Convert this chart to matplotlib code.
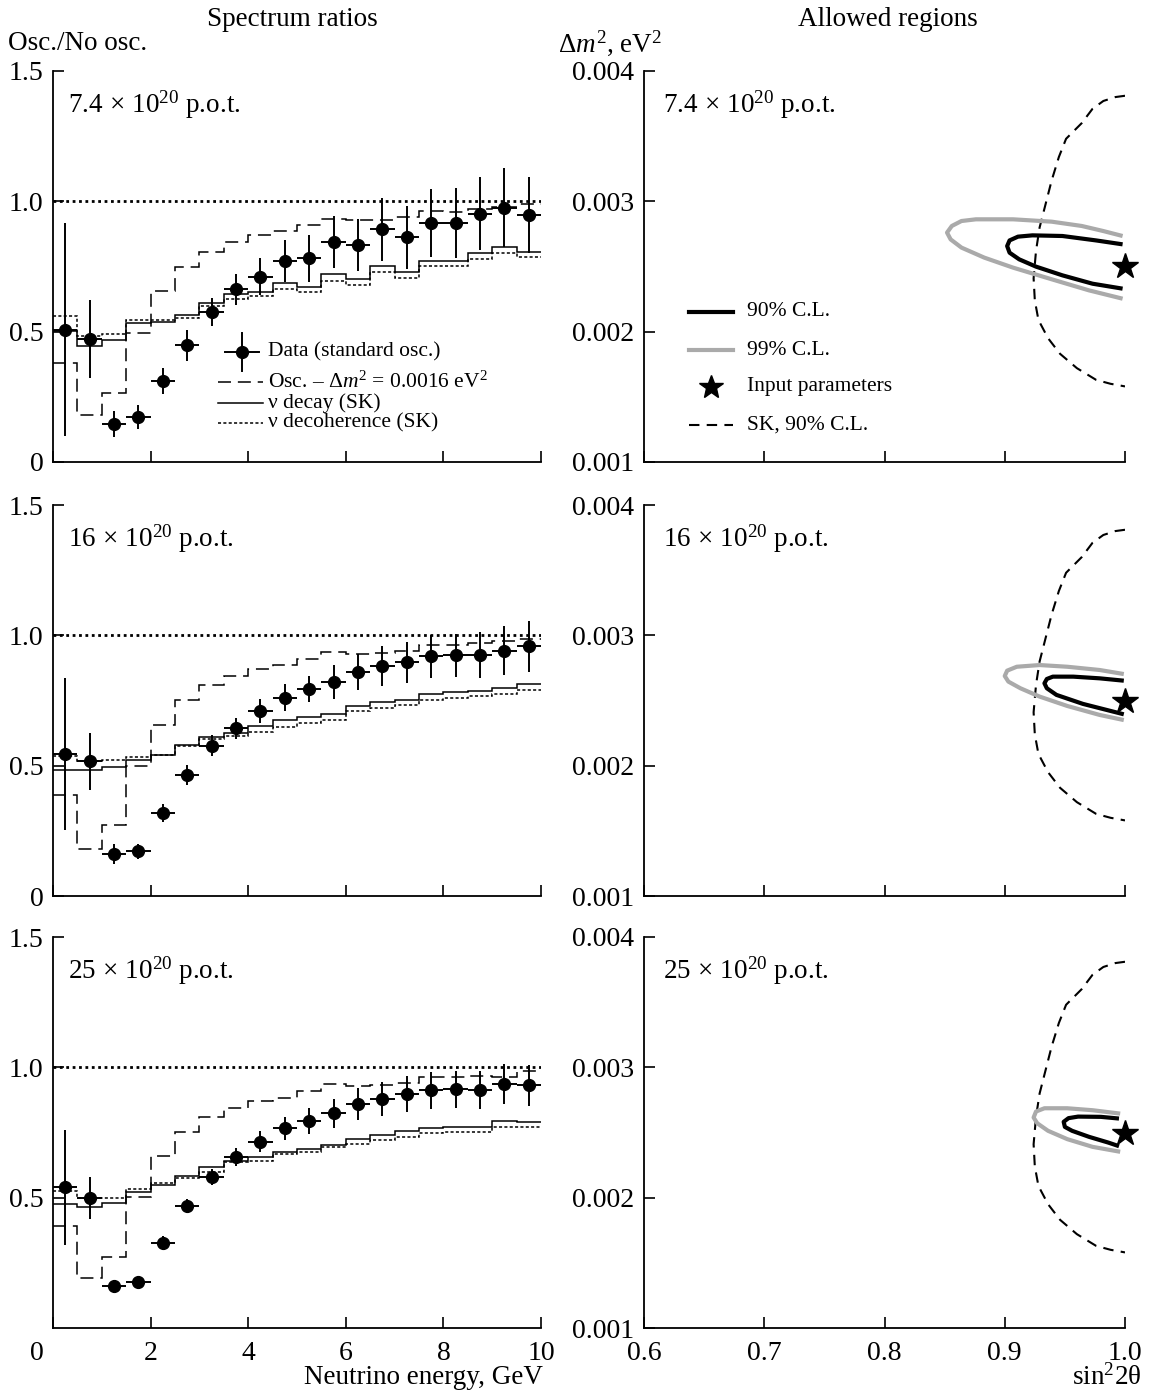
import numpy as np
import matplotlib
matplotlib.use('Agg')
import matplotlib.pyplot as plt
from matplotlib.transforms import ScaledTranslation

plt.rcParams['font.family'] = ['Liberation Serif', 'DejaVu Serif']
plt.rcParams['mathtext.fontset'] = 'custom'
plt.rcParams['mathtext.rm'] = 'Liberation Serif'
plt.rcParams['mathtext.it'] = 'Liberation Serif:italic'

# energy binning: 20 bins of 0.5 GeV
edges = np.arange(0, 10.01, 0.5)
centers = edges[:-1] + 0.25

pot_labels = [r'7.4$\,\times\,$10$^{20}$ p.o.t.',
              r'16$\,\times\,$10$^{20}$ p.o.t.',
              r'25$\,\times\,$10$^{20}$ p.o.t.']

# measured ratio (standard oscillation) and errors
data_74 = [0.508, 0.473, 0.147, 0.173, 0.312, 0.447, 0.576, 0.662, 0.711, 0.772,
           0.781, 0.845, 0.832, 0.892, 0.862, 0.918, 0.918, 0.952, 0.976, 0.948]
err_74 = [0.41, 0.15, 0.05, 0.045, 0.05, 0.06, 0.055, 0.06, 0.07, 0.08,
          0.09, 0.10, 0.10, 0.12, 0.12, 0.13, 0.135, 0.14, 0.15, 0.145]
data_16 = [0.545, 0.517, 0.161, 0.171, 0.318, 0.464, 0.577, 0.644, 0.710, 0.761,
           0.794, 0.821, 0.859, 0.881, 0.896, 0.919, 0.923, 0.926, 0.941, 0.958]
err_16 = [0.29, 0.11, 0.037, 0.03, 0.035, 0.037, 0.04, 0.04, 0.046, 0.052,
          0.05, 0.065, 0.07, 0.077, 0.08, 0.083, 0.082, 0.088, 0.094, 0.097]
data_25 = [0.540, 0.498, 0.160, 0.178, 0.328, 0.468, 0.579, 0.656, 0.715, 0.766,
           0.794, 0.823, 0.859, 0.878, 0.897, 0.912, 0.915, 0.912, 0.935, 0.931]
err_25 = [0.22, 0.08, 0.024, 0.022, 0.024, 0.028, 0.031, 0.033, 0.04, 0.043,
          0.049, 0.054, 0.06, 0.064, 0.068, 0.07, 0.072, 0.073, 0.077, 0.078]

# oscillation with dm2 = 0.0016 eV2
osc_74 = [0.381, 0.179, 0.263, 0.495, 0.656, 0.749, 0.804, 0.845, 0.871, 0.888,
          0.910, 0.933, 0.929, 0.929, 0.939, 0.963, 0.959, 0.972, 0.978, 0.988]
osc_16 = [0.386, 0.182, 0.271, 0.500, 0.657, 0.751, 0.808, 0.845, 0.872, 0.885,
          0.910, 0.936, 0.930, 0.932, 0.941, 0.964, 0.962, 0.971, 0.977, 0.987]
osc_25 = [0.391, 0.191, 0.274, 0.503, 0.661, 0.751, 0.808, 0.845, 0.871, 0.883,
          0.910, 0.935, 0.929, 0.932, 0.940, 0.962, 0.961, 0.966, 0.962, 0.985]

# neutrino decay (SK)
decay_74 = [0.501, 0.446, 0.469, 0.534, 0.537, 0.563, 0.611, 0.643, 0.652, 0.686,
            0.673, 0.720, 0.701, 0.750, 0.727, 0.772, 0.772, 0.802, 0.826, 0.804]
decay_16 = [0.482, 0.482, 0.494, 0.523, 0.542, 0.581, 0.610, 0.625, 0.651, 0.674,
            0.685, 0.699, 0.728, 0.744, 0.753, 0.776, 0.783, 0.785, 0.798, 0.815]
decay_25 = [0.474, 0.465, 0.478, 0.522, 0.550, 0.582, 0.618, 0.639, 0.656, 0.677,
            0.686, 0.703, 0.726, 0.741, 0.756, 0.766, 0.773, 0.773, 0.794, 0.789]

# neutrino decoherence (SK)
decoh_74 = [0.559, 0.485, 0.492, 0.546, 0.544, 0.553, 0.598, 0.626, 0.637, 0.662,
            0.652, 0.695, 0.679, 0.727, 0.705, 0.750, 0.750, 0.778, 0.802, 0.785]
decoh_16 = [0.536, 0.517, 0.520, 0.532, 0.542, 0.577, 0.602, 0.615, 0.629, 0.648,
            0.664, 0.674, 0.708, 0.721, 0.731, 0.753, 0.760, 0.766, 0.776, 0.792]
decoh_25 = [0.525, 0.499, 0.499, 0.533, 0.557, 0.576, 0.598, 0.635, 0.639, 0.667,
            0.677, 0.693, 0.706, 0.722, 0.732, 0.747, 0.753, 0.751, 0.773, 0.771]

# SK 90% C.L. contour (sin^2 2theta, dm2)
sk_x = [1.000, 0.992, 0.982, 0.973, 0.964, 0.951, 0.945, 0.939, 0.934, 0.929,
        0.926, 0.924, 0.925, 0.928, 0.936, 0.946, 0.960, 0.976, 0.988, 1.000]
sk_y = [0.00381, 0.00380, 0.00377, 0.00371, 0.00360, 0.00348, 0.00334, 0.00316,
        0.00298, 0.00280, 0.00262, 0.00241, 0.00224, 0.00209, 0.00195, 0.00183,
        0.00172, 0.00163, 0.00160, 0.00158]

# allowed regions, 90% and 99% C.L.
cl90_74_x = [0.998, 0.976, 0.948, 0.923, 0.911, 0.904, 0.902, 0.904, 0.912, 0.926,
             0.948, 0.973, 0.998]
cl90_74_y = [0.00267, 0.00270, 0.002734, 0.002739, 0.002729, 0.00270, 0.002657,
             0.002606, 0.002555, 0.002499, 0.002432, 0.002368, 0.00233]
cl99_74_x = [0.998, 0.982, 0.964, 0.939, 0.907, 0.876, 0.864, 0.856, 0.852, 0.855,
             0.864, 0.883, 0.907, 0.939, 0.970, 0.998]
cl99_74_y = [0.002734, 0.002772, 0.002811, 0.002844, 0.002862, 0.002862, 0.002849,
             0.002811, 0.00276, 0.002708, 0.002645, 0.002568, 0.002491, 0.002402,
             0.002317, 0.002253]

cl90_16_x = [0.999, 0.979, 0.957, 0.940, 0.935, 0.933, 0.935, 0.943, 0.965, 0.985,
             0.999]
cl90_16_y = [0.002652, 0.002670, 0.002683, 0.002683, 0.002665, 0.002632, 0.002594,
             0.002543, 0.002474, 0.002427, 0.002394]
cl99_16_x = [0.999, 0.979, 0.952, 0.929, 0.910, 0.902, 0.900, 0.903, 0.913, 0.929,
             0.952, 0.979, 0.999]
cl99_16_y = [0.002703, 0.002734, 0.002759, 0.002772, 0.002759, 0.002729, 0.002688,
             0.002645, 0.002594, 0.002530, 0.002458, 0.002389, 0.00235]

cl90_25_x = [0.995, 0.980, 0.961, 0.953, 0.949, 0.950, 0.956, 0.970, 0.986, 0.995]
cl90_25_y = [0.002607, 0.002620, 0.002622, 0.002610, 0.002582, 0.002543, 0.002513,
             0.002467, 0.002423, 0.002395]
cl99_25_x = [0.996, 0.973, 0.952, 0.933, 0.926, 0.924, 0.927, 0.936, 0.952, 0.973,
             0.996]
cl99_25_y = [0.002645, 0.002671, 0.002686, 0.002686, 0.002661, 0.002615, 0.002571,
             0.002513, 0.002449, 0.002390, 0.002352]

input_point = (1.0, 0.0025)

spectra = [(data_74, err_74, osc_74, decay_74, decoh_74),
           (data_16, err_16, osc_16, decay_16, decoh_16),
           (data_25, err_25, osc_25, decay_25, decoh_25)]
regions = [(cl90_74_x, cl90_74_y, cl99_74_x, cl99_74_y),
           (cl90_16_x, cl90_16_y, cl99_16_x, cl99_16_y),
           (cl90_25_x, cl90_25_y, cl99_25_x, cl99_25_y)]

W, H = 1149, 1391
fig = plt.figure(figsize=(W / 100, H / 100), dpi=100)

rows = [(71, 462), (505, 896), (937, 1328)]
lx0, lx1 = 53, 541
rx0, rx1 = 644, 1125

TICK = 20
LABEL = 19.5
LEG = 15.5
DASH = (0, (8.5, 4.5))
DOT = (0, (2, 1.5))
gray = '#aaaaaa'


def style(ax):
    for s in ['top', 'right']:
        ax.spines[s].set_visible(False)
    for s in ['left', 'bottom']:
        ax.spines[s].set_linewidth(1.3)
    ax.tick_params(direction='in', length=8, width=1.2, labelsize=TICK,
                   top=False, right=False)
    ax.tick_params(axis='y', pad=7)
    ax.tick_params(axis='x', pad=9)


for i, (top, bot) in enumerate(rows):
    # spectrum ratios
    ax = fig.add_axes([lx0 / W, 1 - bot / H, (lx1 - lx0) / W, (bot - top) / H])
    data, err, osc, decay, decoh = spectra[i]
    ax.axhline(1.0, color='k', lw=2.0, ls=(0, (1, 1.3)))
    ax.stairs(osc, edges, baseline=None, color='k', lw=1.1, ls=DASH)
    ax.stairs(decoh, edges, baseline=None, color='k', lw=1.1, ls=DOT)
    ax.stairs(decay, edges, baseline=None, color='k', lw=1.1)
    ax.errorbar(centers, data, xerr=0.25, yerr=err, fmt='o', color='k',
                ms=8.5, elinewidth=1.4, capsize=0)
    ax.set_xlim(0, 10)
    ax.set_ylim(0, 1.5)
    ax.set_xticks([0, 2, 4, 6, 8, 10])
    style(ax)
    ax.text(0.03, 0.955, pot_labels[i], transform=ax.transAxes, fontsize=LABEL,
            va='top', ha='left')
    if i < 2:
        ax.set_yticks([0, 0.5, 1.0, 1.5], ['0', '0.5', '1.0', '1.5'])
        ax.set_xticklabels([])
    else:
        ax.set_yticks([0.5, 1.0, 1.5], ['0.5', '1.0', '1.5'])
        ax.set_xticklabels(['0', '2', '4', '6', '8', '10'])
        zero = ax.get_xticklabels()[0]
        zero.set_transform(zero.get_transform() +
                           ScaledTranslation(-16 / 100, 0, fig.dpi_scale_trans))
    if i == 0:
        # legend drawn by hand in axes coordinates
        lx, lw_, tx = 0.338, 0.092, 0.4406
        yy = [0.281, 0.205, 0.151, 0.0997]
        xm = 0.387
        ax.plot([xm - 0.035, xm + 0.035], [yy[0], yy[0]], color='k', lw=1.4,
                transform=ax.transAxes)
        ax.plot([xm, xm], [yy[0] - 0.049, yy[0] + 0.049], color='k',
                lw=1.4, transform=ax.transAxes)
        ax.plot(xm, yy[0], 'o', color='k', ms=8.5, transform=ax.transAxes)
        ax.plot([lx, lx + lw_], [yy[1]] * 2, color='k', lw=1.1, ls=DASH,
                transform=ax.transAxes)
        ax.plot([lx, lx + lw_], [yy[2]] * 2, color='k', lw=1.1,
                transform=ax.transAxes)
        ax.plot([lx, lx + lw_], [yy[3]] * 2, color='k', lw=1.1, ls=DOT,
                transform=ax.transAxes)
        labels = ['Data (standard osc.)',
                  r'Osc. – $\Delta m^2$ = 0.0016 eV$^2$',
                  'ν decay (SK)', 'ν decoherence (SK)']
        for y, t in zip(yy, labels):
            ax.text(tx, y, t, transform=ax.transAxes, fontsize=LEG,
                    va='center', ha='left')

    # allowed regions
    ax = fig.add_axes([rx0 / W, 1 - bot / H, (rx1 - rx0) / W, (bot - top) / H])
    c90x, c90y, c99x, c99y = regions[i]
    ax.plot(sk_x, sk_y, color='k', lw=1.5, ls=(0, (5, 3.5)))
    ax.plot(c99x, c99y, color=gray, lw=3.0, solid_capstyle='butt')
    ax.plot(c90x, c90y, color='k', lw=3.0, solid_capstyle='butt')
    ax.plot(*input_point, marker='*', color='k', ms=19, clip_on=False, zorder=5)
    ax.set_xlim(0.6, 1.0)
    ax.set_ylim(0.001, 0.004)
    ax.set_xticks([0.6, 0.7, 0.8, 0.9, 1.0])
    ax.set_yticks([0.001, 0.002, 0.003, 0.004],
                  ['0.001', '0.002', '0.003', '0.004'])
    style(ax)
    ax.text(0.04, 0.955, pot_labels[i], transform=ax.transAxes, fontsize=LABEL,
            va='top', ha='left')
    if i < 2:
        ax.set_xticklabels([])
    else:
        ax.set_xticklabels(['0.6', '0.7', '0.8', '0.9', '1.0'])
    if i == 0:
        lx, lw_, tx = 0.0936, 0.0915, 0.214
        yy = [0.384, 0.286, 0.192, 0.095]
        ax.plot([lx, lx + lw_], [yy[0]] * 2, color='k', lw=3.0,
                transform=ax.transAxes)
        ax.plot([lx, lx + lw_], [yy[1]] * 2, color=gray, lw=3.0,
                transform=ax.transAxes)
        ax.plot(lx + lw_ / 2, yy[2], marker='*', color='k', ms=18,
                transform=ax.transAxes)
        ax.plot([lx, lx + lw_], [yy[3]] * 2, color='k', lw=1.5,
                ls=(0, (5, 3.5)), transform=ax.transAxes)
        labels = ['90% C.L.', '99% C.L.', 'Input parameters', 'SK, 90% C.L.']
        for y, t in zip(yy, labels):
            ax.text(tx, y, t, transform=ax.transAxes, fontsize=LEG,
                    va='center', ha='left')

fig.text(292 / W, 1 - 19 / H, 'Spectrum ratios', fontsize=LABEL, ha='center',
         va='center')
fig.text(888 / W, 1 - 19 / H, 'Allowed regions', fontsize=LABEL, ha='center',
         va='center')
fig.text(8 / W, 1 - 43 / H, 'Osc./No osc.', fontsize=LABEL, ha='left',
         va='center')
fig.text(558 / W, 1 - 43 / H, r'Δ$m^2$, eV$^2$', fontsize=LABEL, ha='left',
         va='center')
fig.text(543 / W, 1 - 1377 / H, 'Neutrino energy, GeV', fontsize=LABEL,
         ha='right', va='center')
fig.text(1141 / W, 1 - 1377 / H, r'sin$^2$2θ', fontsize=LABEL, ha='right',
         va='center')

fig.savefig('out.png', dpi=100)
